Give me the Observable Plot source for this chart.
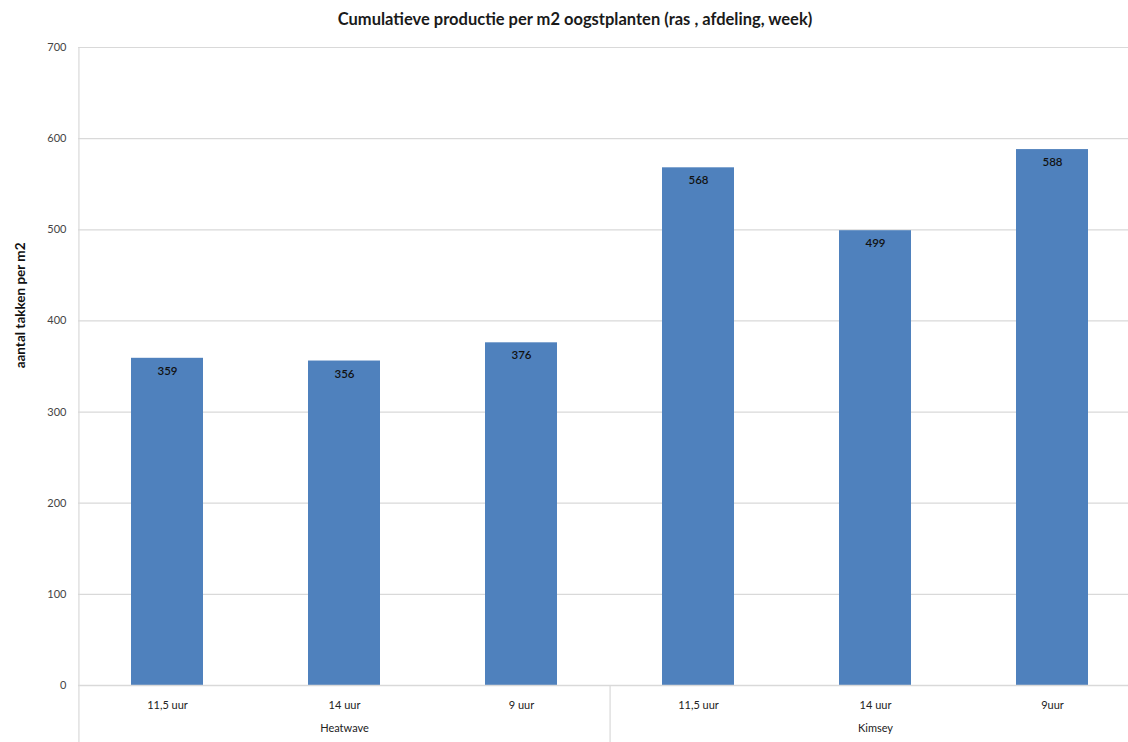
<!DOCTYPE html>
<html>
<head>
<meta charset="utf-8">
<script src="https://cdn.jsdelivr.net/npm/d3@7"></script>
<script src="https://cdn.jsdelivr.net/npm/@observablehq/plot@0.6"></script>
<style>
  html, body { margin: 0; padding: 0; background: #fff; }
  #title { height: 36px; line-height: 38px; text-align: center; font-family: Lato, "Open Sans", sans-serif; font-weight: bold; font-size: 16.5px; color: #1a1a1a; padding-left: 22px; }
</style>
</head>
<body>
<div id="title">Cumulatieve productie per m2 oogstplanten (ras , afdeling, week)</div>
<div id="chart"></div>
<script>
const groups = ["Heatwave", "Heatwave", "Heatwave", "Kimsey", "Kimsey", "Kimsey"];
const categories = ["11,5 uur", "14 uur", "9 uur", "11,5 uur", "14 uur", "9uur"];
const values = [359, 356, 376, 568, 499, 588];
const groupNames = ["Heatwave", "Kimsey"];
const yTicks = [0, 100, 200, 300, 400, 500, 600, 700];

const data = values.map((v, i) => ({key: groups[i] + "|" + categories[i], group: groups[i], cat: categories[i], value: v}));
const keys = data.map(d => d.key);
const groupMid = groupNames.map(g => {
  const ks = data.filter(d => d.group === g).map(d => d.key);
  return {group: g, key: ks[Math.floor(ks.length / 2)]};
});
const lastOfGroup = groupNames.slice(0, -1).map(g => data.filter(d => d.group === g).slice(-1)[0].key);

const left = 78, right = 1141;
const step = (right - left) / keys.length;
const grid = "#d9d9d9";
const font = "Lato, 'Open Sans', sans-serif";

const chart = Plot.plot({
  width: 1128,
  height: 706,
  marginTop: 11,
  marginBottom: 57,
  marginLeft: left,
  marginRight: 0,
  style: {fontFamily: font, fontSize: "11px", color: "#333", background: "#fff", overflow: "visible"},
  x: {domain: keys, range: [left, right], paddingInner: 0.594, paddingOuter: 0.297, label: null},
  y: {domain: [0, 700], ticks: yTicks, label: null},
  marks: [
    Plot.gridY(yTicks, {stroke: grid, strokeOpacity: 1, strokeWidth: 1.2}),
    Plot.ruleX([keys[0]], {dx: -step / 2, y1: 700, y2: -62.6, stroke: grid, strokeWidth: 1.2}),
    Plot.ruleX(lastOfGroup, {dx: step / 2, y1: 0, y2: -62.6, stroke: grid, strokeWidth: 1.2}),
    Plot.barY(data, {x: "key", y: "value", fill: "#4f81bd"}),
    Plot.ruleY([0], {stroke: grid, strokeWidth: 1.5}),
    Plot.text(data, {x: "key", y: "value", text: d => String(d.value), dy: 13, fill: "#111", fontSize: 11.5, fontWeight: 600}),
    Plot.axisY({ticks: yTicks, tickSize: 0, tickPadding: 12, fill: "#444", fontSize: 11}),
    Plot.axisX({tickSize: 0, tickPadding: 16, tickFormat: d => d.split("|")[1], fill: "#222", fontSize: 11}),
    Plot.text(groupMid, {x: "key", text: "group", frameAnchor: "bottom", dy: 46, fill: "#222", fontSize: 11}),
    Plot.text(["aantal takken per m2"], {frameAnchor: "left", y: 417, rotate: -90, dx: -58, textAnchor: "middle", fill: "#111", fontWeight: "bold", fontSize: 13.5})
  ]
});
document.getElementById("chart").appendChild(chart);
</script>
</body>
</html>
